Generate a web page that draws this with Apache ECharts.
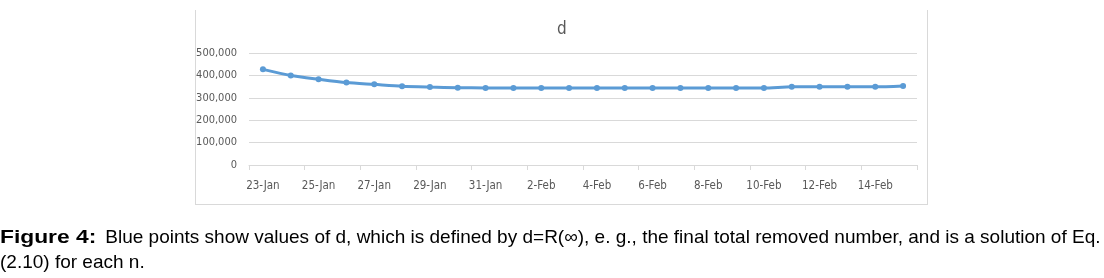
<!DOCTYPE html>
<html>
<head>
<meta charset="utf-8">
<script src="https://cdn.jsdelivr.net/npm/echarts@6/dist/echarts.min.js"></script>
<style>
  html, body { margin: 0; padding: 0; background: #fff; }
  body { width: 1104px; height: 278px; position: relative; overflow: hidden; }
  #frame {
    position: absolute; left: 195px; top: 10px; width: 731px; height: 194px;
    border-left: 1px solid #d9d9d9; border-right: 1px solid #d9d9d9; border-bottom: 1px solid #d9d9d9;
  }
  #chart { position: absolute; left: 0; top: 0; width: 1104px; height: 278px; }
  #caption {
    position: absolute; left: 0; top: 224px; width: 1102px;
    font-family: 'Liberation Sans', Arial, sans-serif; font-size: 19px; line-height: 25px; color: #000;
  }
  #caption b {
    font-weight: bold; display: inline-block; width: 100px; white-space: nowrap;
    transform: scaleX(1.2); transform-origin: left center;
  }
</style>
</head>
<body>
<div id="frame"></div>
<div id="chart"></div>
<div id="caption"><b>Figure 4:</b> Blue points show values of d, which is defined by d=R(∞), e. g., the final total removed number, and is a solution of Eq. (2.10) for each n.</div>
<script>
// Dates, one per day from 23 Jan to 15 Feb
const dates = ['23-Jan','24-Jan','25-Jan','26-Jan','27-Jan','28-Jan','29-Jan','30-Jan','31-Jan',
  '1-Feb','2-Feb','3-Feb','4-Feb','5-Feb','6-Feb','7-Feb','8-Feb','9-Feb','10-Feb',
  '11-Feb','12-Feb','13-Feb','14-Feb','15-Feb'];
// d = R(infinity) for each day
const dValues = [427000, 400000, 383000, 368000, 360000, 352000, 348000, 345000, 344000,
  344000, 344000, 344000, 344000, 344000, 344000, 344000, 344000, 344000, 344000,
  349000, 349000, 349000, 349000, 353000];
const yTicks = [0, 100000, 200000, 300000, 400000, 500000];

const labelFont = "'DejaVu Sans Condensed', 'Liberation Sans Narrow', sans-serif";
const chart = echarts.init(document.getElementById('chart'), null, { renderer: 'canvas' });
chart.setOption({
  animation: false,
  title: {
    text: 'd', left: 552, top: 16,
    textStyle: { fontFamily: labelFont, fontSize: 17, fontWeight: 'normal', color: '#595959' }
  },
  grid: { left: 249, right: 187, top: 53, bottom: 113, containLabel: false },
  xAxis: {
    type: 'category', data: dates, boundaryGap: true,
    axisLine: { lineStyle: { color: '#d9d9d9', width: 1 } },
    axisTick: { show: true, interval: 1, length: 5, lineStyle: { color: '#d9d9d9' } },
    axisLabel: { interval: 1, margin: 15, color: '#595959', fontFamily: labelFont, fontSize: 11.5 }
  },
  yAxis: {
    type: 'value', min: yTicks[0], max: yTicks[yTicks.length - 1], interval: 100000,
    axisLine: { show: false }, axisTick: { show: false },
    splitLine: { lineStyle: { color: '#d9d9d9', width: 1 } },
    axisLabel: {
      margin: 12, color: '#595959', fontFamily: labelFont, fontSize: 11,
      formatter: v => v.toLocaleString('en-US')
    }
  },
  series: [{
    type: 'line', data: dValues, smooth: 0.25,
    symbol: 'circle', symbolSize: 6,
    lineStyle: { color: '#5b9bd5', width: 3 },
    itemStyle: { color: '#5b9bd5' }
  }]
});
</script>
</body>
</html>
